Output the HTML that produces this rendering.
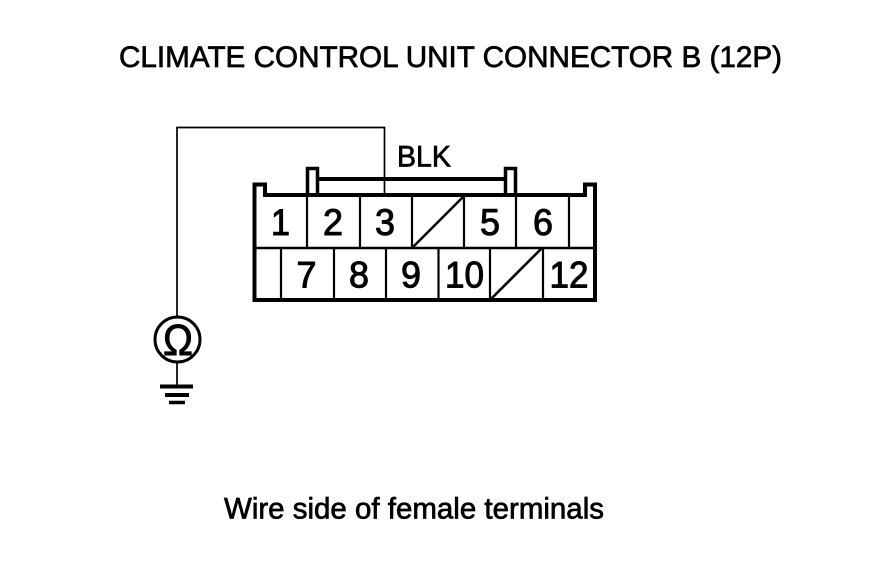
<!DOCTYPE html>
<html><head><meta charset="utf-8"><style>
html,body{margin:0;padding:0;background:#fff}
svg{display:block}
text{font-family:"Liberation Sans",sans-serif;fill:#000;stroke:#000;stroke-width:.7}
.d{font-size:37px;text-anchor:middle;stroke-width:1}
</style></head><body>
<svg width="880" height="578" viewBox="0 0 880 578" xmlns="http://www.w3.org/2000/svg">
<rect width="880" height="578" fill="#fff"/>
<text x="119" y="67" font-size="30" textLength="663" lengthAdjust="spacingAndGlyphs">CLIMATE CONTROL UNIT CONNECTOR B (12P)</text>
<text x="397" y="166.500" font-size="30" textLength="54" lengthAdjust="spacingAndGlyphs">BLK</text>
<text x="224" y="518.500" font-size="29.500" textLength="380" lengthAdjust="spacingAndGlyphs">Wire side of female terminals</text>
<g fill="none" stroke="#000">
<path d="M177 316V127.500H384.500V195" stroke-width="1.700"/>
<path d="M254.500 300V184.500H265V195H585V184.500H595V300Z" stroke-width="4"/>
<path d="M307.500 195V168.500H317.500V195M505.500 195V168.500H515.500V195" stroke-width="3.500"/>
<path d="M319 179H504" stroke-width="4"/>
<path d="M254 248H595" stroke-width="2.600"/>
<path d="M307 196V248M360 196V248M412 196V248M464 196V248M516 196V248M569 196V248M281 248V300M334 248V300M386 248V300M438.500 248V300M490 248V300M543 248V300" stroke-width="2.200"/>
<path d="M412 248L464 196M490 300L542 248" stroke-width="2.600"/>
<circle cx="177.500" cy="339.500" r="22.500" stroke-width="3"/>
<path d="M177 362V386" stroke-width="1.700"/>
<path d="M160 386.500H193" stroke-width="4"/>
<path d="M165 395H189" stroke-width="4"/>
<path d="M169 402.500H185" stroke-width="3.500"/>
</g>
<text x="178" y="355" font-size="44" text-anchor="middle" textLength="30" lengthAdjust="spacingAndGlyphs" style="stroke-width:.9">Ω</text>
<text class="d" x="280.500" y="235" textLength="19" lengthAdjust="spacingAndGlyphs">1</text>
<text class="d" x="333" y="235" textLength="20" lengthAdjust="spacingAndGlyphs">2</text>
<text class="d" x="385" y="235" textLength="20" lengthAdjust="spacingAndGlyphs">3</text>
<text class="d" x="490" y="235" textLength="20" lengthAdjust="spacingAndGlyphs">5</text>
<text class="d" x="543" y="235" textLength="20" lengthAdjust="spacingAndGlyphs">6</text>
<text class="d" x="306.500" y="287.500" textLength="20" lengthAdjust="spacingAndGlyphs">7</text>
<text class="d" x="359" y="287.500" textLength="20" lengthAdjust="spacingAndGlyphs">8</text>
<text class="d" x="411" y="287.500" textLength="20" lengthAdjust="spacingAndGlyphs">9</text>
<text class="d" x="464.500" y="287.500" textLength="39" lengthAdjust="spacingAndGlyphs">10</text>
<text class="d" x="569" y="287.500" textLength="39" lengthAdjust="spacingAndGlyphs">12</text>
</svg>
</body></html>
